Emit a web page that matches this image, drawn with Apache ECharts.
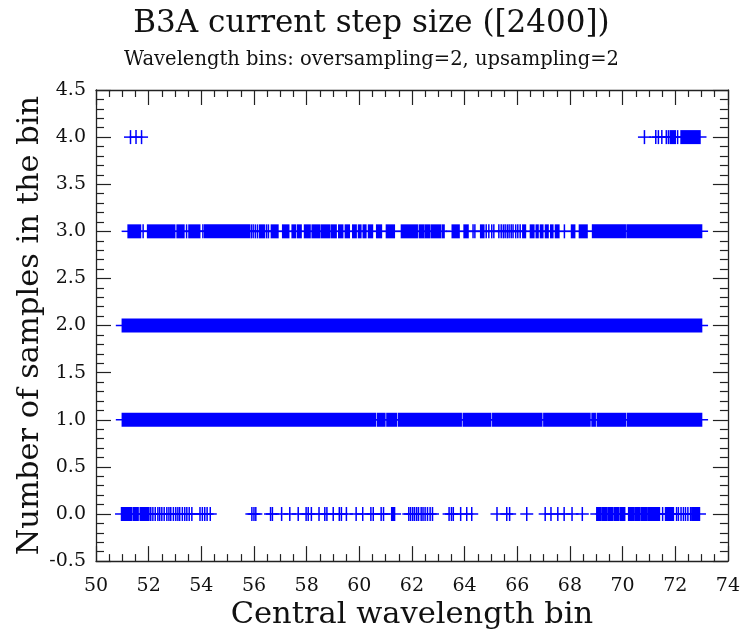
<!DOCTYPE html>
<html>
<head>
<meta charset="utf-8">
<script src="https://cdn.jsdelivr.net/npm/echarts@6/dist/echarts.min.js"></script>
<style>html,body{margin:0;padding:0;background:#fff}#c{width:743px;height:636px}</style>
</head>
<body>
<div id="c"></div>
<script>
// Tick labels
const xTickLabels = ['50','52','54','56','58','60','62','64','66','68','70','72','74'];
const yTickLabels = ['-0.5','0.0','0.5','1.0','1.5','2.0','2.5','3.0','3.5','4.0','4.5'];
// Levels (number of samples)
const levels = [0, 1, 2, 3, 4];
// Central wavelength bins per level: a number is one sample, [a, b] is a run of densely packed samples
const row0 = [[50.97,51.34],[51.41,51.60],[51.68,52.01],52.08,52.16,52.25,52.35,52.42,52.50,52.59,52.69,52.77,52.84,52.94,53.03,53.11,53.18,53.28,53.37,53.45,53.54,53.64,53.95,54.04,54.13,54.22,54.34,
  55.92,56.00,56.07,56.63,56.70,57.05,57.36,57.68,57.98,58.06,58.18,58.47,58.69,58.77,59.01,59.24,59.32,59.51,59.88,60.13,60.44,60.53,60.83,60.92,[61.23,61.34],
  61.88,61.95,62.03,62.10,62.18,62.25,62.35,62.42,62.50,62.59,62.69,62.78,
  63.41,63.50,63.57,63.85,64.08,64.27,
  65.23,65.60,65.71,66.36,
  67.06,67.28,67.54,67.78,68.08,68.47,[69.02,69.17],[69.22,69.41],[69.47,69.62],[69.68,69.85],[69.91,70.08],[70.23,70.42],[70.47,70.66],[70.72,70.93],[70.98,71.40],71.52,[71.63,71.93],
  72.05,72.12,72.22,72.31,72.39,72.48,72.58,[72.63,72.92]];
const row1 = [[51.00,60.62],[60.70,60.97],[61.05,61.41],[61.49,63.87],[63.95,64.99],[65.07,66.93],[67.01,68.76],[68.84,68.96],[69.04,70.10],[70.18,73.00]];
const row2 = [[51.00,73.00]];
const row3 = [[51.22,51.69],51.79,[51.96,52.99],[53.08,53.34],53.44,[53.53,53.94],54.06,[54.13,55.83],55.90,55.97,56.05,56.13,[56.21,56.40],56.48,56.55,[56.66,56.91],
  [57.09,57.32],[57.45,57.58],[57.66,57.79],[57.92,58.13],[58.21,58.48],[58.55,58.86],[58.93,59.12],[59.22,59.37],[59.47,59.62],[59.75,59.88],[59.97,60.06],[60.15,60.25],[60.35,60.50],[60.66,60.84],[61.03,61.33],
  [61.60,62.20],[62.28,62.45],[62.51,62.68],[62.75,63.09],[63.16,63.22],[63.53,63.79],[63.98,64.13],64.32,64.39,[64.61,64.73],64.82,64.92,65.03,65.11,
  65.30,65.39,65.47,65.54,65.62,65.69,65.77,65.84,65.94,66.02,66.11,[66.21,66.31],[66.50,66.63],[66.72,66.79],[66.88,66.97],[67.07,67.17],[67.27,67.35],[67.45,67.58],67.79,
  [68.06,68.18],[68.36,68.65],[68.86,70.10],[70.17,73.00]];
const row4 = [51.31,51.52,51.73,70.83,71.26,71.36,71.49,71.66,71.74,[71.81,72.00],72.09,[72.22,72.94]];

const rows = [row0, row1, row2, row3, row4];
const data = [];
rows.forEach((r, i) => r.forEach(v => {
  const a = Array.isArray(v) ? v : [v, v];
  data.push([a[0], a[1], levels[i]]);
}));

const FONT = 'DejaVu Serif';
const AX = '#222';
const chart = echarts.init(document.getElementById('c'), null, {renderer: 'canvas'});
const axisCommon = {
  axisLine: {show: true, onZero: false, lineStyle: {color: AX, width: 1.3}},
  splitLine: {show: false},
};
chart.setOption({
  animation: false,
  backgroundColor: '#fff',
  title: [
    {text: 'B3A current step size ([2400])', left: 'center', top: 3,
     textStyle: {fontFamily: FONT, fontSize: 31, fontWeight: 'normal', color: '#111'}},
    {text: 'Wavelength bins: oversampling=2, upsampling=2', left: 'center', top: 45,
     textStyle: {fontFamily: FONT, fontSize: 19.5, fontWeight: 'normal', color: '#111'}}
  ],
  grid: {left: 96, right: 13, top: 90, bottom: 73, containLabel: false},
  xAxis: [
    Object.assign({type: 'value', min: 50, max: 74, interval: 2, position: 'bottom',
      name: 'Central wavelength bin', nameLocation: 'middle', nameGap: 35,
      nameTextStyle: {fontFamily: FONT, fontSize: 30.5, color: '#111'},
      axisTick: {show: true, inside: true, length: 15, lineStyle: {color: AX, width: 1.2}},
      minorTick: {show: true, splitNumber: 4, length: 7, lineStyle: {color: AX, width: 1.2}},
      axisLabel: {fontFamily: FONT, fontSize: 19, color: '#111', margin: 15,
        formatter: v => xTickLabels[Math.round((v - 50) / 2)]}}, axisCommon),
    Object.assign({type: 'value', min: 50, max: 74, interval: 2, position: 'top',
      axisTick: {show: true, inside: true, length: 15, lineStyle: {color: AX, width: 1.2}},
      minorTick: {show: true, splitNumber: 4, length: 7, lineStyle: {color: AX, width: 1.2}},
      axisLabel: {show: false}}, axisCommon)
  ],
  yAxis: [
    Object.assign({type: 'value', min: -0.5, max: 4.5, interval: 0.5, position: 'left',
      name: 'Number of samples in the bin', nameLocation: 'middle', nameGap: 50, nameMoveOverlap: false,
      nameTextStyle: {fontFamily: FONT, fontSize: 30.5, color: '#111'},
      axisTick: {show: true, inside: true, length: 15, lineStyle: {color: AX, width: 1.2}},
      minorTick: {show: true, splitNumber: 5, length: 8, lineStyle: {color: AX, width: 1.2}},
      axisLabel: {fontFamily: FONT, fontSize: 19, color: '#111', margin: 10,
        formatter: v => yTickLabels[Math.round((v + 0.5) / 0.5)]}}, axisCommon),
    Object.assign({type: 'value', min: -0.5, max: 4.5, interval: 0.5, position: 'right',
      axisTick: {show: true, inside: true, length: 15, lineStyle: {color: AX, width: 1.2}},
      minorTick: {show: true, splitNumber: 5, length: 8, lineStyle: {color: AX, width: 1.2}},
      axisLabel: {show: false}}, axisCommon)
  ],
  series: [{
    type: 'custom',
    xAxisIndex: 0, yAxisIndex: 0,
    encode: {x: [0, 1], y: 2},
    data: data,
    renderItem: function (params, api) {
      const x0 = api.value(0), x1 = api.value(1), y = api.value(2);
      const p0 = api.coord([x0, y]);
      const p1 = api.coord([x1, y]);
      const hw = 6.5, hh = 7, t = 0.75;
      return {type: 'group', children: [
        {type: 'rect', shape: {x: p0[0] - t, y: p0[1] - hh, width: p1[0] - p0[0] + 2 * t, height: 2 * hh},
         style: {fill: '#0000ff'}},
        {type: 'rect', shape: {x: p0[0] - hw, y: p0[1] - t, width: p1[0] - p0[0] + 2 * hw, height: 2 * t},
         style: {fill: '#0000ff'}}
      ]};
    }
  }]
});
</script>
</body>
</html>
